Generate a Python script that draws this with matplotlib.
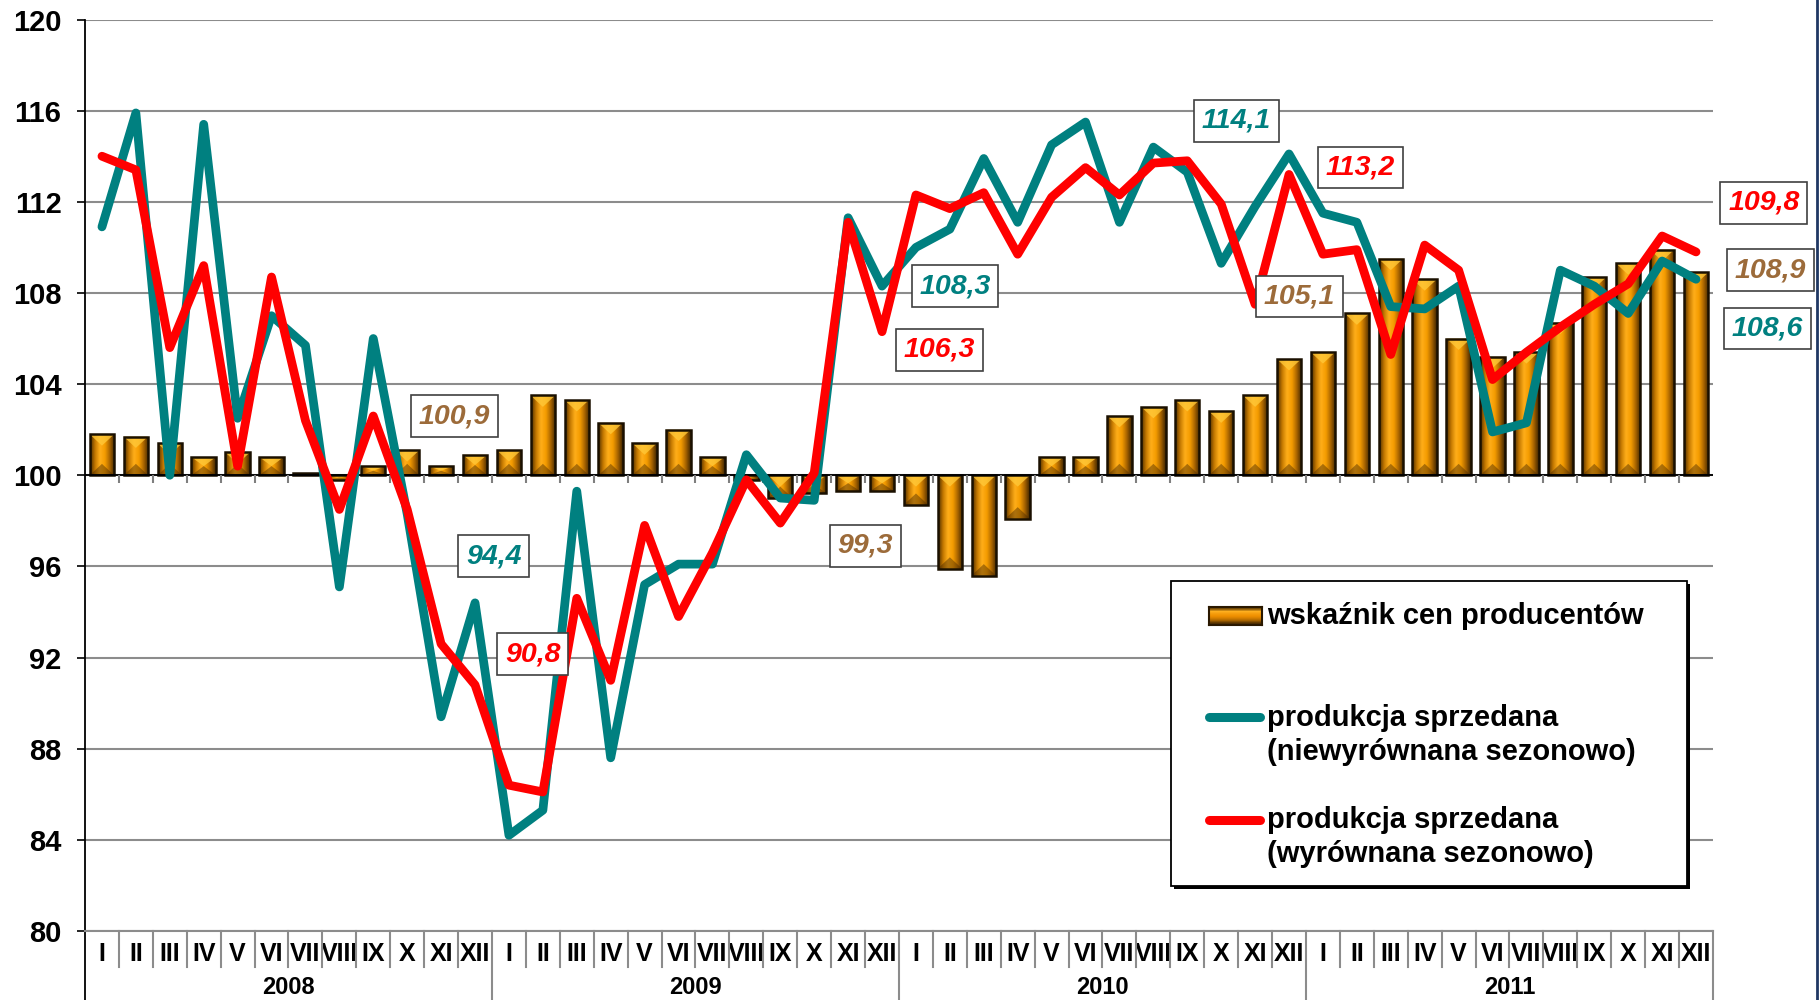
import numpy as np
import matplotlib
matplotlib.use("Agg")
import matplotlib.pyplot as plt
from matplotlib.colors import LinearSegmentedColormap
from matplotlib.patches import Polygon, Rectangle
from matplotlib.lines import Line2D
import matplotlib.transforms as mtransforms

# --- dane ---
months = ['I', 'II', 'III', 'IV', 'V', 'VI', 'VII', 'VIII', 'IX', 'X', 'XI', 'XII']
years = ['2008', '2009', '2010', '2011']

# wskaznik cen producentow (slupki, baza 100)
ppi = [101.8, 101.7, 101.4, 100.8, 101.0, 100.8, 100.1, 99.8, 100.4, 101.1, 100.4, 100.9,
       101.1, 103.5, 103.3, 102.3, 101.4, 102.0, 100.8, 99.8, 99.0, 99.2, 99.3, 99.3,
       98.7, 95.9, 95.6, 98.1, 100.8, 100.8, 102.6, 103.0, 103.3, 102.8, 103.5, 105.1,
       105.4, 107.1, 109.5, 108.6, 106.0, 105.2, 105.4, 106.7, 108.7, 109.3, 109.9, 108.9]

# produkcja sprzedana - niewyrownana sezonowo
prod_nsa = [110.9, 115.9, 100.0, 115.4, 102.5, 107.0, 105.7, 95.1, 106.0, 98.3, 89.4, 94.4,
            84.2, 85.3, 99.3, 87.6, 95.2, 96.1, 96.1, 100.9, 99.0, 98.9, 111.3, 108.3,
            110.0, 110.8, 113.9, 111.1, 114.5, 115.5, 111.1, 114.4, 113.3, 109.3, 111.8, 114.1,
            111.5, 111.1, 107.4, 107.3, 108.3, 101.9, 102.3, 109.0, 108.3, 107.1, 109.4, 108.6]

# produkcja sprzedana - wyrownana sezonowo
prod_sa = [114.0, 113.4, 105.6, 109.2, 100.4, 108.7, 102.4, 98.5, 102.6, 98.5, 92.6, 90.8,
           86.4, 86.1, 94.6, 91.0, 97.8, 93.8, 96.6, 99.8, 97.9, 100.1, 111.1, 106.3,
           112.3, 111.7, 112.4, 109.7, 112.2, 113.5, 112.3, 113.7, 113.8, 111.9, 107.5, 113.2,
           109.7, 109.9, 105.3, 110.1, 109.0, 104.2, 105.4, 106.5, 107.5, 108.4, 110.5, 109.8]

TEAL = '#008080'
RED = '#FF0000'
BROWN = '#9C6B3A'
GRID = '#8c8c8c'

plt.rcParams['font.family'] = ['Liberation Sans', 'DejaVu Sans']

fig = plt.figure(figsize=(18.2, 10), dpi=100)
ax = fig.add_axes([0.0467, 0.069, 0.8945, 0.9115])

x = np.arange(len(ppi))

# --- slupki z gradientem ---
bar_cmap = LinearSegmentedColormap.from_list(
    'ppi', ['#4a2c00', '#c47800', '#ffae1a', '#f59c00', '#a86400', '#3f2500'])
grad = np.linspace(0, 1, 64).reshape(1, -1)
bars = ax.bar(x, np.array(ppi) - 100, bottom=100, width=0.72, color='none',
              edgecolor='#1a1000', linewidth=1.8, zorder=3)
for b in bars:
    x0, w = b.get_x(), b.get_width()
    y_lo = min(b.get_y(), b.get_y() + b.get_height())
    y_hi = max(b.get_y(), b.get_y() + b.get_height())
    im = ax.imshow(grad, cmap=bar_cmap, extent=(x0, x0 + w, y_lo, y_hi),
                   aspect='auto', interpolation='bicubic', zorder=2)
    im.set_clip_path(b)
    d = min(0.5, (y_hi - y_lo) * 0.5)
    ax.add_patch(Polygon([(x0, y_hi), (x0 + w, y_hi), (x0 + w / 2, y_hi - d)],
                         closed=True, color='#ffc838', alpha=0.8, lw=0, zorder=2.5))
    ax.add_patch(Polygon([(x0, y_lo), (x0 + w, y_lo), (x0 + w / 2, y_lo + d)],
                         closed=True, color='#4a2a00', alpha=0.45, lw=0, zorder=2.5))

# --- linie ---
ax.plot(x, prod_nsa, color=TEAL, lw=6.3, solid_joinstyle='round',
        solid_capstyle='round', zorder=4)
ax.plot(x, prod_sa, color=RED, lw=6.3, solid_joinstyle='round',
        solid_capstyle='round', zorder=5)

# --- osie ---
ax.set_xlim(-0.5, len(ppi) - 0.5)
ax.set_ylim(80, 120)
ax.set_yticks(range(80, 121, 4))
ax.set_yticklabels([str(v) for v in range(80, 121, 4)], fontsize=21, fontweight='bold')
ax.tick_params(axis='y', length=6, width=1.2, pad=11, color='black')
ax.set_xticks(x)
ax.set_xticklabels(months * len(years), fontsize=18, fontweight='bold')
ax.tick_params(axis='x', length=0, pad=8)

ax.yaxis.grid(True, color=GRID, lw=1.5)
ax.set_axisbelow(True)
for s in ['top', 'right']:
    ax.spines[s].set_visible(False)
ax.spines['left'].set_linewidth(1.3)
ax.spines['bottom'].set_color(GRID)
ax.spines['bottom'].set_linewidth(1.5)

# os kategorii w 100
ax.axhline(100, color='black', lw=1.3, zorder=3.5)
ax.vlines(x[:-1] + 0.5, 99.68, 100, color='#7f7f7f', lw=1.5, zorder=3.5)

# separatory etykiet miesiecy i lat pod osia
trans = mtransforms.blended_transform_factory(ax.transData, ax.transAxes)
for k in range(1, len(ppi)):
    bottom = -0.0757 if k % 12 == 0 else -0.0395
    ax.add_line(Line2D([k - 0.5, k - 0.5], [0, bottom], transform=trans,
                       color=GRID, lw=1.5, clip_on=False))
ax.add_line(Line2D([len(ppi) - 0.5] * 2, [0, -0.0757], transform=trans,
                   color=GRID, lw=1.5, clip_on=False))
ax.add_line(Line2D([-0.5, -0.5], [0, -0.0757], transform=trans,
                   color='black', lw=1.3, clip_on=False))
for i, yr in enumerate(years):
    ax.text(i * 12 + 5.5, -0.0615, yr, transform=trans, ha='center', va='center',
            fontsize=17, fontweight='bold')


# --- etykiety wartosci (grudzien) ---
def fmt(v):
    return f"{v:.1f}".replace('.', ',')


labels = [
    (ppi[11], 10.4, 102.6, BROWN),
    (prod_nsa[11], 11.55, 96.45, TEAL),
    (prod_sa[11], 12.7, 92.15, RED),
    (ppi[23], 22.5, 96.9, BROWN),
    (prod_nsa[23], 25.15, 108.3, TEAL),
    (prod_sa[23], 24.7, 105.5, RED),
    (prod_nsa[35], 33.45, 115.55, TEAL),
    (prod_sa[35], 37.1, 113.5, RED),
    (ppi[35], 35.3, 107.85, BROWN),
    (prod_sa[47], 49.0, 111.95, RED),
    (ppi[47], 49.2, 109.0, BROWN),
    (prod_nsa[47], 49.1, 106.45, TEAL),
]
for val, lx, ly, col in labels:
    ax.text(lx, ly, fmt(val), color=col, fontsize=20.5, fontweight='bold',
            fontstyle='italic', ha='center', va='center', zorder=6, clip_on=False,
            bbox=dict(boxstyle='square,pad=0.27', fc='white', ec='#404040', lw=1.2))

# --- legenda ---
W, H = 1820.0, 1000.0


def fx(px):
    return px / W


def fy(py):
    return 1 - py / H


fig.patches.append(Rectangle((fx(1174), fy(889)), fx(516), (886 - 581) / H,
                             transform=fig.transFigure, fc='black', ec='none', zorder=9))
fig.patches.append(Rectangle((fx(1171), fy(886)), fx(516), (886 - 581) / H,
                             transform=fig.transFigure, fc='white', ec='black', lw=1.3, zorder=10))

lax = fig.add_axes([fx(1209), fy(625), fx(53), 18 / H], zorder=11)
vgrad = np.array([0.0, 0.35, 0.5, 0.65, 1.0]).reshape(-1, 1)
leg_cmap = LinearSegmentedColormap.from_list('lg', ['#5a3600', '#ffb020', '#f09000', '#a86400', '#3f2500'])
lax.imshow(vgrad, cmap=leg_cmap, aspect='auto', interpolation='bicubic')
lax.set_xticks([])
lax.set_yticks([])
for s in lax.spines.values():
    s.set_color('#2a1800')
    s.set_linewidth(1.5)

fig.add_artist(Line2D([fx(1209), fx(1260)], [fy(717), fy(717)], color=TEAL, lw=6.5,
                      solid_capstyle='round', zorder=11))
fig.add_artist(Line2D([fx(1209), fx(1260)], [fy(820), fy(820)], color=RED, lw=6.5,
                      solid_capstyle='round', zorder=11))

leg_font = dict(fontsize=21, fontweight='bold', ha='left', va='center', zorder=12)
fig.text(fx(1267), fy(616), 'wskaźnik cen producentów', **leg_font)
fig.text(fx(1267), fy(718), 'produkcja sprzedana', **leg_font)
fig.text(fx(1267), fy(752), '(niewyrównana sezonowo)', **leg_font)
fig.text(fx(1267), fy(820), 'produkcja sprzedana', **leg_font)
fig.text(fx(1267), fy(854), '(wyrównana sezonowo)', **leg_font)

# ramka z prawej strony
fig.add_artist(Line2D([0.9985, 0.9985], [0, 1], color='#203864', lw=2))

fig.savefig('out.png', dpi=100)
